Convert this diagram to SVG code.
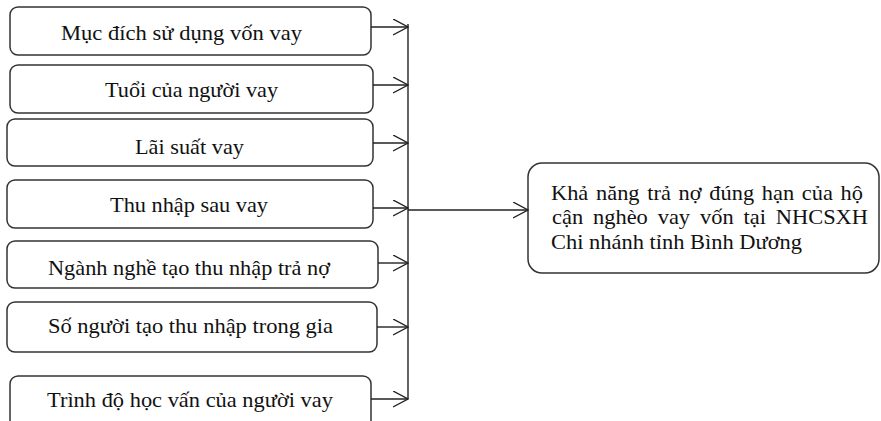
<svg xmlns="http://www.w3.org/2000/svg" width="881" height="421" viewBox="0 0 881 421">
<style>
.box{fill:#fff;stroke:#333;stroke-width:1.5}
.t{font-family:"Liberation Serif","Times New Roman","DejaVu Serif",serif;font-size:21px;fill:#111}
.c{fill:none;stroke:#222;stroke-width:1.4}
</style>
<defs>
<marker id="ah" markerWidth="16" markerHeight="18" refX="15" refY="8" orient="auto" markerUnits="userSpaceOnUse">
<path d="M0,0 L15,8 L0,16" fill="none" stroke="#222" stroke-width="1.4"/>
</marker>
</defs>
<rect width="881" height="421" fill="#fff"/>
<g id="n1"><rect class="box" x="10" y="7" width="361" height="48" rx="8"/><text class="t" font-family="Liberation Serif, serif" x="61" y="40" textLength="241" lengthAdjust="spacingAndGlyphs">Mục đích sử dụng vốn vay</text></g>
<g id="n2"><rect class="box" x="10" y="65" width="363" height="48" rx="8"/><text class="t" font-family="Liberation Serif, serif" x="105" y="97" textLength="173" lengthAdjust="spacingAndGlyphs">Tuổi của người vay</text></g>
<g id="n3"><rect class="box" x="7" y="119" width="366" height="47" rx="8"/><text class="t" font-family="Liberation Serif, serif" x="135" y="154" textLength="109" lengthAdjust="spacingAndGlyphs">Lãi suất vay</text></g>
<g id="n4"><rect class="box" x="7" y="180" width="366" height="48" rx="8"/><text class="t" font-family="Liberation Serif, serif" x="110" y="212" textLength="158" lengthAdjust="spacingAndGlyphs">Thu nhập sau vay</text></g>
<g id="n5"><rect class="box" x="7" y="241" width="371" height="47" rx="8"/><text class="t" font-family="Liberation Serif, serif" x="48" y="275" textLength="282" lengthAdjust="spacingAndGlyphs">Ngành nghề tạo thu nhập trả nợ</text></g>
<g id="n6"><rect class="box" x="7" y="302" width="370" height="50" rx="8"/><text class="t" font-family="Liberation Serif, serif" x="48" y="333" textLength="285" lengthAdjust="spacingAndGlyphs">Số người tạo thu nhập trong gia</text></g>
<g id="n7"><rect class="box" x="10" y="376" width="361" height="60" rx="8"/><text class="t" font-family="Liberation Serif, serif" x="47" y="407" textLength="286" lengthAdjust="spacingAndGlyphs">Trình độ học vấn của người vay</text></g>
<g id="target"><rect class="box" x="528" y="163" width="351" height="110" rx="14"/>
<text class="t" font-family="Liberation Serif, serif" x="551" y="200" word-spacing="2" textLength="312" lengthAdjust="spacingAndGlyphs">Khả năng trả nợ đúng hạn của hộ</text>
<text class="t" font-family="Liberation Serif, serif" x="552" y="224" word-spacing="4" textLength="316" lengthAdjust="spacingAndGlyphs">cận nghèo vay vốn tại NHCSXH</text>
<text class="t" font-family="Liberation Serif, serif" x="551" y="249" textLength="251" lengthAdjust="spacingAndGlyphs">Chi nhánh tỉnh Bình Dương</text>
</g>
<g id="connectors">
<line class="c" x1="408" y1="24" x2="408" y2="399"/>
<line class="c" x1="371" y1="27" x2="408" y2="27" marker-end="url(#ah)"/>
<line class="c" x1="373" y1="85" x2="408" y2="85" marker-end="url(#ah)"/>
<line class="c" x1="373" y1="143" x2="408" y2="143" marker-end="url(#ah)"/>
<line class="c" x1="373" y1="208" x2="408" y2="208" marker-end="url(#ah)"/>
<line class="c" x1="378" y1="263" x2="408" y2="263" marker-end="url(#ah)"/>
<line class="c" x1="377" y1="327" x2="408" y2="327" marker-end="url(#ah)"/>
<line class="c" x1="371" y1="399" x2="408" y2="399" marker-end="url(#ah)"/>
<line class="c" x1="408" y1="210" x2="528" y2="210" marker-end="url(#ah)"/>
</g>
</svg>
